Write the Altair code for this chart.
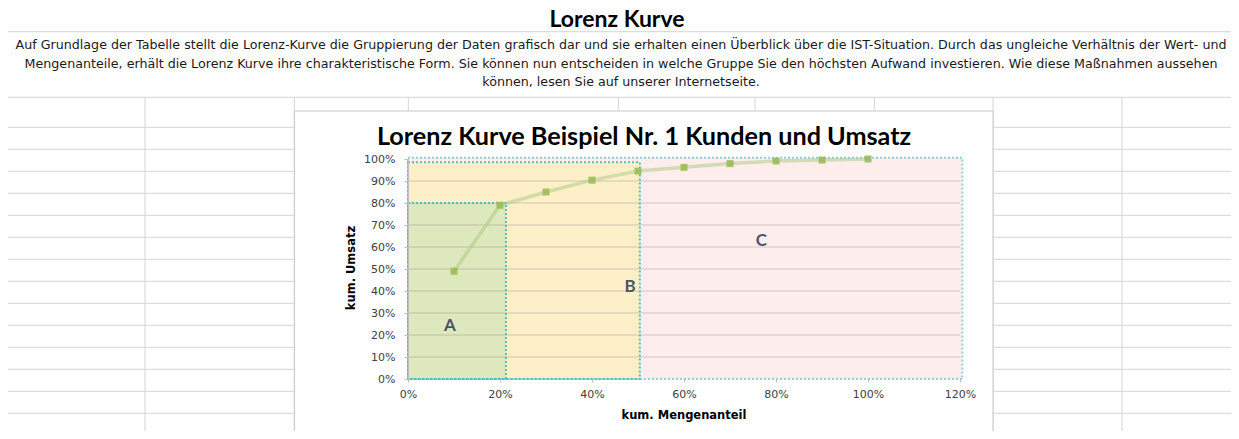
import altair as alt
import pandas as pd

# ---------------- data ----------------
mengen = [0.1, 0.2, 0.3, 0.4, 0.5, 0.6, 0.7, 0.8, 0.9, 1.0]
umsatz = [0.49, 0.79, 0.85, 0.904, 0.945, 0.962, 0.979, 0.991, 0.995, 1.0]

region_names = ["C", "B", "A"]
region_x_end = [1.205, 0.504, 0.213]
region_y_top = [1.006, 0.985, 0.80]

label_text = ["A", "B", "C"]
label_x = [0.091, 0.483, 0.768]
label_y = [0.24, 0.42, 0.627]

x_ticks = [0.0, 0.2, 0.4, 0.6, 0.8, 1.0, 1.2]
y_ticks = [0.0, 0.1, 0.2, 0.3, 0.4, 0.5, 0.6, 0.7, 0.8, 0.9, 1.0]

sheet_title = "Lorenz Kurve"
paragraph_lines = [
    "Auf Grundlage der Tabelle stellt die Lorenz-Kurve die Gruppierung der Daten grafisch dar und sie erhalten einen Überblick über die IST-Situation. Durch das ungleiche Verhältnis der Wert- und",
    "Mengenanteile, erhält die Lorenz Kurve ihre charakteristische Form. Sie können nun entscheiden in welche Gruppe Sie den höchsten Aufwand investieren.  Wie diese Maßnahmen aussehen",
    "können, lesen Sie auf unserer Internetseite.",
]
chart_title = "Lorenz Kurve Beispiel Nr. 1 Kunden und Umsatz"
x_title = "kum. Mengenanteil"
y_title = "kum. Umsatz"

# ---------------- layout ----------------
W, H = 552, 220          # plot area
PAD_L, PAD_T = 400, 151  # plot origin at page (408,159)
OX, OY = PAD_L + 8, PAD_T + 8
TOTAL_W, TOTAL_H = 1223, 423

BODY_FONT = "DejaVu Sans"
TITLE_FONT = "Lato"
GRID_SHEET = "#d4d4d4"
PARA_SIZE = 12.68

xs = alt.Scale(domain=[0, 1.2], nice=False, zero=False)
ys = alt.Scale(domain=[0, 1], nice=False, zero=False)

x_axis = alt.Axis(values=x_ticks, format=".0%", grid=False, domain=False,
                  ticks=True, tickSize=3, tickColor="#bfbfbf", labelFont=BODY_FONT,
                  labelFontSize=11, labelColor="#404040", labelPadding=6,
                  title=None, zindex=1, labelFlush=False)
y_axis = alt.Axis(values=y_ticks, format=".0%", grid=False, domain=True,
                  domainColor="#bfbfbf", ticks=True, tickSize=4, tickColor="#bfbfbf",
                  labelFont=BODY_FONT, labelFontSize=11, labelColor="#404040",
                  labelPadding=9, title=None, zindex=1, labelFlush=False)

one = pd.DataFrame({"k": [0]})


def px(X):
    return X - OX


def py(Y):
    return Y - OY


def rule(x1, y1, x2, y2, color=GRID_SHEET, width=1):
    return alt.Chart(one).mark_rule(color=color, strokeWidth=width).encode(
        x=alt.value(px(x1)), x2=alt.value(px(x2)),
        y=alt.value(py(y1)), y2=alt.value(py(y2)))


def text(t, X, Y, size, weight="normal", font=BODY_FONT, color="#000000",
         angle=0, align="center", baseline="middle"):
    return alt.Chart(pd.DataFrame({"t": [t]})).mark_text(
        fontSize=size, fontWeight=weight, font=font, color=color, angle=angle,
        align=align, baseline=baseline).encode(
        x=alt.value(px(X)), y=alt.value(py(Y)), text="t:N")


layers = []

# spreadsheet grid lines
h_rows = [1.7, 31.7, 97.3] + [127.3 + 22 * i for i in range(15)]
for yy in h_rows:
    layers.append(rule(-20, yy, 1260, yy))
for xx in [145, 294.3, 993, 1122]:
    layers.append(rule(xx, 97.3, xx, 460))
for xx in [408.3, 618.3, 755, 874.3]:
    layers.append(rule(xx, 97.3, xx, 111))

# sheet header texts
layers.append(text(sheet_title, 617, 27, 23, "bold", TITLE_FONT, baseline="alphabetic"))
para_y = [45, 63.7, 82.4]
for line, yy in zip(paragraph_lines, para_y):
    layers.append(text(line, 621, yy, PARA_SIZE, color="#1a1a1a"))

# chart box
layers.append(alt.Chart(one).mark_rect(fill="white", stroke="#c8c8c8", strokeWidth=1).encode(
    x=alt.value(px(294.5)), x2=alt.value(px(993)),
    y=alt.value(py(111)), y2=alt.value(py(470))))

# regions
reg = pd.DataFrame({"name": region_names, "x0": [0] * 3, "x1": region_x_end,
                    "y0": [0] * 3, "y1": region_y_top})
fill_scale = alt.Scale(domain=["A", "B", "C"], range=["#dee8bd", "#fdf0c9", "#fdeeed"])
stroke_scale = alt.Scale(domain=["A", "B", "C"], range=["#4fbfc2", "#4fbfc2", "#8dd2d2"])

layers.append(alt.Chart(reg).mark_rect().encode(
    x=alt.X("x0:Q", scale=xs, axis=x_axis), x2="x1:Q",
    y=alt.Y("y0:Q", scale=ys, axis=y_axis), y2="y1:Q",
    fill=alt.Fill("name:N", scale=fill_scale, legend=None)))

# chart gridlines
grid = pd.DataFrame({"v": y_ticks[1:-1]})
layers.append(alt.Chart(grid).mark_rule(color="#9a9090", strokeWidth=1, opacity=0.45).encode(
    y=alt.Y("v:Q", scale=ys, axis=y_axis), x=alt.value(0), x2=alt.value(W)))

# dotted borders
layers.append(alt.Chart(reg).mark_rect(fillOpacity=0, strokeWidth=2, strokeDash=[2, 2]).encode(
    x=alt.X("x0:Q", scale=xs, axis=x_axis), x2="x1:Q",
    y=alt.Y("y0:Q", scale=ys, axis=y_axis), y2="y1:Q",
    stroke=alt.Stroke("name:N", scale=stroke_scale, legend=None)))

# Lorenz curve
curve = pd.DataFrame({"x": mengen, "y": umsatz})
layers.append(alt.Chart(curve).mark_line(color="#a9c77f", strokeWidth=3.5, opacity=0.5).encode(
    x=alt.X("x:Q", scale=xs, axis=x_axis), y=alt.Y("y:Q", scale=ys, axis=y_axis)))
layers.append(alt.Chart(curve).mark_square(size=49, color="#9bbb59", opacity=0.9).encode(
    x=alt.X("x:Q", scale=xs, axis=x_axis), y=alt.Y("y:Q", scale=ys, axis=y_axis)))

# region letters
lab = pd.DataFrame({"t": label_text, "x": label_x, "y": label_y})
layers.append(alt.Chart(lab).mark_text(fontSize=17, fontWeight="bold", font=TITLE_FONT,
                                       color="#4d5366").encode(
    x=alt.X("x:Q", scale=xs, axis=x_axis), y=alt.Y("y:Q", scale=ys, axis=y_axis), text="t:N"))

# chart title and axis titles
layers.append(text(chart_title, 644, 137, 25.2, "bold", TITLE_FONT))
layers.append(text(x_title, 684, 416, 11.5, "bold"))
layers.append(text(y_title, 352, 268, 11.5, "bold", angle=270))

chart = alt.layer(*layers).properties(
    width=W, height=H,
    autosize=alt.AutoSizeParams(type="none"),
    padding={"left": PAD_L, "top": PAD_T, "right": TOTAL_W - PAD_L - W,
             "bottom": TOTAL_H - PAD_T - H},
    background="white",
).configure_view(stroke=None)

chart.save("out.html", embed_options={"renderer": "svg", "actions": False})
